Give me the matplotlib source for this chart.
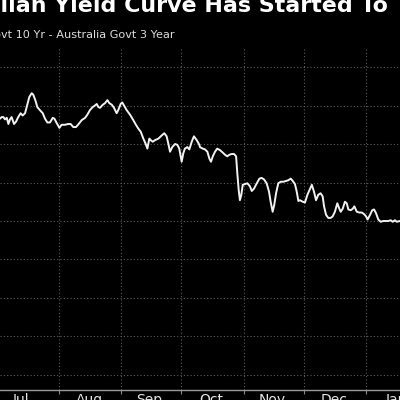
import pandas
import numpy
import matplotlib
matplotlib.use('Agg')
import matplotlib.pyplot
import matplotlib.dates

# days after 1 Jul 2020 and the 10y - 3y spread in basis points
days = [1.6, 2.5, 3.3, 4.1, 5.0, 5.8, 6.6, 7.4, 8.6, 9.6, 10.7, 11.9, 12.9, 14.1, 15.2,
        16.2, 17.4, 18.2, 19.2, 20.2, 21.5, 22.9, 24.0, 25.2, 26.5, 27.9, 28.7, 29.9, 31.2,
        32.3, 34.0, 35.6, 36.8, 38.1, 39.5, 40.8, 42.3, 44.0, 45.1, 46.4, 47.8, 48.9, 49.8,
        50.6, 51.4, 52.8, 53.9, 55.1, 56.1, 57.3, 58.4, 59.7, 60.5, 61.7, 62.5, 63.4, 64.7,
        66.4, 68.0, 69.3, 70.5, 71.7, 73.0, 74.2, 75.0, 76.0, 76.7, 77.7, 78.8, 80.5, 82.1,
        83.4, 84.6, 85.4, 86.3, 87.4, 88.8, 89.9, 90.9, 92.1, 92.9, 93.7, 94.9, 95.9, 97.1,
        98.2, 99.6, 100.9, 101.2, 102.6, 103.7, 104.9, 105.9, 106.7, 107.6, 108.7, 109.8,
        111.2, 112.5, 113.7, 114.8, 115.8, 117.0, 118.2, 119.2, 119.8, 120.5, 121.1, 121.8,
        122.5, 123.6, 124.8, 126.1, 127.0, 128.1, 129.5, 130.8, 131.9, 133.1, 134.4, 135.6,
        136.4, 137.4, 138.2, 139.1, 140.2, 141.4, 142.7, 144.1, 145.2, 146.4, 147.4, 148.5,
        149.4, 150.2, 151.0, 152.4, 153.5, 154.7, 155.7, 156.9, 158.0, 159.0, 160.1, 161.3,
        162.3, 163.0, 164.0, 165.1, 166.3, 167.3, 168.4, 169.6, 170.6, 171.3, 172.3, 173.4,
        174.3, 175.1, 176.3, 177.3, 178.1, 179.3, 180.6, 181.8, 182.9, 183.9, 184.7, 185.9,
        187.0, 187.9, 188.9, 190.0, 191.2, 192.5, 193.9, 195.0, 196.2, 197.2, 198.3, 199.2,
        200.8]
spread = [63.3, 63.5, 63.5, 63.2, 63.4, 62.6, 63.2, 63.5, 62.6, 62.9, 63.5, 64.0, 63.7, 64.0,
          65.1, 66.1, 66.6, 66.4, 65.7, 64.8, 64.4, 64.0, 63.3, 62.8, 62.8, 63.4, 63.3, 62.7,
          62.1, 62.5, 62.5, 62.6, 62.6, 62.2, 62.2, 62.6, 63.1, 63.4, 63.8, 64.4, 64.8, 65.0,
          65.2, 64.8, 64.7, 65.1, 65.3, 65.7, 65.3, 65.1, 64.7, 64.0, 64.4, 65.2, 65.4, 65.0,
          64.4, 63.8, 63.1, 62.5, 62.0, 61.6, 60.7, 60.0, 59.4, 60.7, 60.5, 60.3, 60.5, 60.7,
          61.1, 61.4, 61.0, 60.1, 59.0, 59.6, 60.0, 59.9, 59.4, 57.7, 58.8, 59.4, 59.6, 59.3,
          60.3, 61.0, 60.5, 59.9, 59.6, 59.4, 59.3, 59.0, 58.1, 57.7, 58.4, 59.0, 59.4, 59.2,
          58.9, 58.6, 58.4, 58.6, 58.7, 58.7, 58.4, 56.2, 54.0, 52.7, 53.4, 54.7, 54.8, 54.9,
          54.5, 53.9, 54.2, 54.9, 55.5, 55.6, 55.4, 54.9, 53.8, 52.5, 51.2, 52.1, 53.6, 54.9,
          55.1, 55.1, 55.2, 55.3, 55.5, 55.2, 54.8, 53.8, 52.6, 52.7, 52.5, 52.4, 53.4, 54.0,
          54.7, 53.8, 52.7, 53.4, 53.6, 53.2, 51.9, 50.8, 50.4, 50.4, 50.6, 51.2, 52.3, 51.6,
          51.2, 51.6, 52.5, 52.3, 51.5, 51.4, 51.6, 51.9, 51.2, 51.1, 51.1, 50.9, 50.6, 50.2,
          50.8, 51.4, 51.5, 51.0, 50.2, 49.9, 50.0, 50.0, 50.0, 50.1, 49.9, 50.1, 49.9, 50.0]

month_labels = ['Jul', 'Aug', 'Sep', 'Oct', 'Nov', 'Dec', 'Jan']
label_dates = ['2020-07-13', '2020-08-16', '2020-09-15', '2020-10-16',
               '2020-11-15', '2020-12-16', '2021-01-16']

title = 'Australian Yield Curve Has Started To'
subtitle = 'Australia Govt 10 Yr - Australia Govt 3 Year'

start = pandas.Timestamp('2020-07-01')
dates = start + pandas.to_timedelta(days, unit='D')

fig = matplotlib.pyplot.figure(figsize=(4, 4), dpi=100, facecolor='black')
ax = fig.add_axes([0, 0.025, 1, 0.8575], facecolor='black')

ax.plot(dates, spread, color='#f2f2f2', linewidth=1.4, solid_joinstyle='round')

ax.set_xlim(start + pandas.Timedelta(days=1.62), start + pandas.Timedelta(days=200.82))
ax.set_ylim(28.05, 72.6)
ax.set_yticks(numpy.arange(30, 71, 5))
ax.tick_params(axis='y', length=0, labelleft=False)

ax.xaxis.set_major_locator(matplotlib.dates.MonthLocator())
ax.xaxis.set_major_formatter(matplotlib.ticker.NullFormatter())
ax.set_xticks(pandas.to_datetime(label_dates), labels=month_labels, minor=True)
ax.tick_params(axis='x', which='major', direction='out', length=3, width=0.8, color='#888888')
ax.tick_params(axis='x', which='minor', length=0, pad=2, labelsize=10, labelcolor='#e6e6e6')

ax.grid(True, which='major', color='#5c5c5c', linestyle=(0, (1, 2)), linewidth=0.8)
for side in ['top', 'left', 'right']:
    ax.spines[side].set_visible(False)
ax.spines['bottom'].set_color('#9a9a9a')
ax.spines['bottom'].set_linewidth(1.0)

# the picture is a crop, so the start of the headings lies left of the figure
renderer = fig.canvas.get_renderer()
title_kw = dict(color='white', fontsize=15.9, fontweight='bold', family='DejaVu Sans', va='baseline')
probe = fig.text(0, 0, 'Austra', **title_kw)
shift = probe.get_window_extent(renderer).width
probe.remove()
fig.text((0 - shift) / 400, 1 - 12.5 / 400, title, **title_kw)

sub_kw = dict(color='#dddddd', fontsize=8.1, family='DejaVu Sans', va='baseline')
probe = fig.text(0, 0, 'Australia Go', **sub_kw)
shift = probe.get_window_extent(renderer).width
probe.remove()
fig.text((1.5 - shift) / 400, 1 - 38.3 / 400, subtitle, **sub_kw)

fig.savefig('out.png', dpi=100, facecolor='black')
